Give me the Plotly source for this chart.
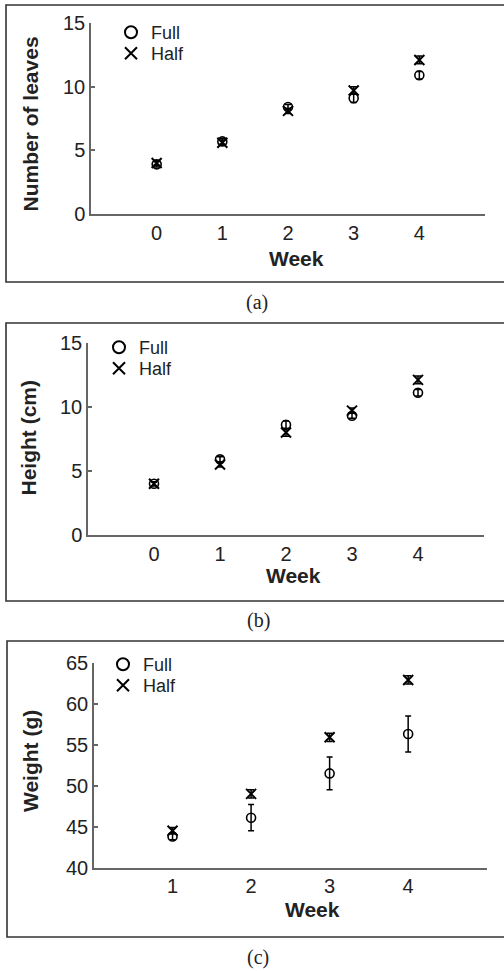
import plotly.graph_objects as go

W, H = 504, 971

# Panel (a): Number of leaves
weeks_a = [0, 1, 2, 3, 4]
leaves_full = [3.9, 5.7, 8.4, 9.1, 10.9]
leaves_full_err = [0.2, 0.2, 0.2, 0.35, 0.3]
leaves_half = [4.0, 5.6, 8.1, 9.7, 12.1]
leaves_half_err = [0.2, 0.2, 0.2, 0.3, 0.3]

# Panel (b): Height (cm)
weeks_b = [0, 1, 2, 3, 4]
height_full = [4.0, 5.9, 8.6, 9.3, 11.1]
height_full_err = [0.15, 0.2, 0.3, 0.2, 0.25]
height_half = [4.0, 5.5, 8.0, 9.7, 12.1]
height_half_err = [0.15, 0.2, 0.3, 0.2, 0.3]

# Panel (c): Weight (g)
weeks_c = [1, 2, 3, 4]
weight_full = [43.8, 46.1, 51.5, 56.3]
weight_full_err = [0.4, 1.6, 2.0, 2.2]
weight_half = [44.5, 49.0, 55.9, 62.9]
weight_half_err = [0.4, 0.5, 0.5, 0.5]

captions = ["(a)", "(b)", "(c)"]
y_titles = ["Number of leaves", "Height (cm)", "Weight (g)"]
x_title = "Week"

def px(x):
    return x / W

def py(y):
    return 1 - y / H

fig = go.Figure()

full_marker = dict(symbol="circle-open", size=9, color="black", line=dict(width=1.6, color="black"))
half_marker = dict(symbol="x-thin-open", size=10, color="black", line=dict(width=2, color="black"))

def add_pair(x, yf, ef, yh, eh, xa, ya, legf, legh):
    fig.add_trace(go.Scatter(x=x, y=yf, mode="markers", name="Full", marker=full_marker,
                             error_y=dict(type="data", array=ef, color="black", thickness=1.5, width=3),
                             xaxis=xa, yaxis=ya, legend=legf))
    fig.add_trace(go.Scatter(x=x, y=yh, mode="markers", name="Half", marker=half_marker,
                             error_y=dict(type="data", array=eh, color="black", thickness=1.5, width=3),
                             xaxis=xa, yaxis=ya, legend=legh))

add_pair(weeks_a, leaves_full, leaves_full_err, leaves_half, leaves_half_err, "x", "y", "legend", "legend4")
add_pair(weeks_b, height_full, height_full_err, height_half, height_half_err, "x2", "y2", "legend2", "legend5")
add_pair(weeks_c, weight_full, weight_full_err, weight_half, weight_half_err, "x3", "y3", "legend3", "legend6")

FONT = "Arial, Liberation Sans, sans-serif"
tickfont = dict(family=FONT, size=20, color="#222")
titlefont = dict(family=FONT, size=21, color="#222")
axline = dict(showline=True, linecolor="#666", linewidth=1.5, showgrid=False, zeroline=False,
              tickfont=tickfont, mirror=False, automargin=False)

def xaxis(domain, rng, tickvals, anchor):
    return dict(domain=domain, range=rng, tickvals=tickvals, ticks="", anchor=anchor, **axline)

def yaxis(domain, rng, tickvals, anchor):
    return dict(domain=domain, range=rng, tickvals=tickvals, ticks="inside", ticklen=4,
                tickcolor="#666", tickwidth=1.5, anchor=anchor, **axline)

xa = xaxis([px(91), px(485)], [-1, 5], weeks_a, "y")
ya = yaxis([py(214), py(23)], [0, 15], [0, 5, 10, 15], "x")
xb = xaxis([px(88), px(484)], [-1, 5], weeks_b, "y2")
yb = yaxis([py(535), py(342.7)], [0, 15], [0, 5, 10, 15], "x2")
xc = xaxis([px(94), px(486.7)], [0, 5], weeks_c, "y3")
yc = yaxis([py(867.7), py(662.7)], [40, 65], [40, 45, 50, 55, 60, 65], "x3")

legfont = dict(family=FONT, size=18, color="#222")
def legend(x, y):
    return dict(x=px(x), y=py(y), xanchor="left", yanchor="top", bgcolor="rgba(0,0,0,0)",
                font=legfont, itemwidth=30, tracegroupgap=0, borderwidth=0,
                itemsizing="constant")

boxes = [(6, 5, 520, 282), (6, 323, 520, 601), (7, 641, 520, 937)]
shapes = []
for (x0, y0, x1, y1) in boxes:
    shapes.append(dict(type="rect", xref="paper", yref="paper", x0=px(x0), x1=px(x1),
                       y0=py(y1), y1=py(y0), line=dict(color="#333", width=1.6)))

annotations = []
caps_pos = [(257, 302), (258, 620), (258, 957)]
for t, (cx, cy) in zip(captions, caps_pos):
    annotations.append(dict(text=t, xref="paper", yref="paper", x=px(cx), y=py(cy),
                            showarrow=False, xanchor="center", yanchor="middle",
                            font=dict(family="Liberation Serif, Times New Roman, serif", size=20, color="#222")))

xt_pos = [(296, 258), (293, 575), (312, 909.5)]
for (cx, cy) in xt_pos:
    annotations.append(dict(text="<b>%s</b>" % x_title, xref="paper", yref="paper", x=px(cx), y=py(cy),
                            showarrow=False, xanchor="center", yanchor="middle", font=titlefont))

yt_pos = [(30, 124.5), (28, 437.5), (30, 761)]
for t, (cx, cy) in zip(y_titles, yt_pos):
    annotations.append(dict(text="<b>%s</b>" % t, xref="paper", yref="paper", x=px(cx), y=py(cy),
                            showarrow=False, xanchor="center", yanchor="middle", textangle=-90,
                            font=titlefont))

fig.update_layout(
    width=W, height=H, margin=dict(l=0, r=0, t=0, b=0, autoexpand=False),
    paper_bgcolor="white", plot_bgcolor="white",
    xaxis=xa, yaxis=ya, xaxis2=xb, yaxis2=yb, xaxis3=xc, yaxis3=yc,
    legend=legend(111, 14), legend4=legend(111, 35),
    legend2=legend(99, 329), legend5=legend(99, 350),
    legend3=legend(103, 646), legend6=legend(103, 667),
    shapes=shapes, annotations=annotations,
    showlegend=True,
)

fig.write_html("out.html")
